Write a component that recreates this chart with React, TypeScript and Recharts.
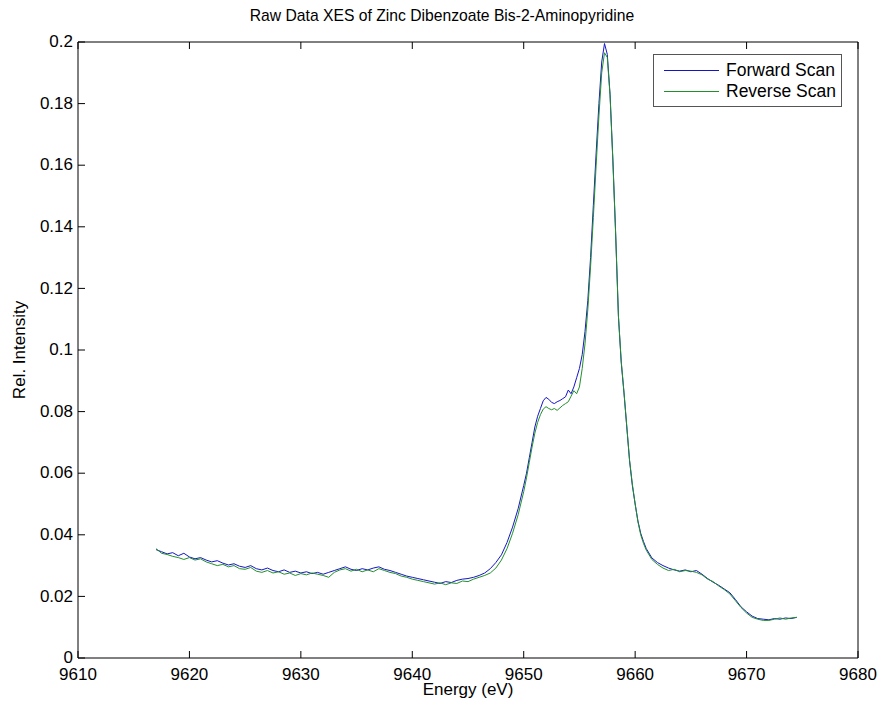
import React from "react";
import { Line, LineChart, XAxis, YAxis } from "recharts";

// energy grid (eV): 0.5 eV steps, 0.25 eV across the main peak
const energies = [
  9617.0, 9617.5, 9618.0, 9618.5, 9619.0, 9619.5, 9620.0, 9620.5, 9621.0, 9621.5,
  9622.0, 9622.5, 9623.0, 9623.5, 9624.0, 9624.5, 9625.0, 9625.5, 9626.0, 9626.5,
  9627.0, 9627.5, 9628.0, 9628.5, 9629.0, 9629.5, 9630.0, 9630.5, 9631.0, 9631.5,
  9632.0, 9632.5, 9633.0, 9633.5, 9634.0, 9634.5, 9635.0, 9635.5, 9636.0, 9636.5,
  9637.0, 9637.5, 9638.0, 9638.5, 9639.0, 9639.5, 9640.0, 9640.5, 9641.0, 9641.5,
  9642.0, 9642.5, 9643.0, 9643.5, 9644.0, 9644.5, 9645.0, 9645.5, 9646.0, 9646.5,
  9647.0, 9647.5, 9648.0, 9648.5, 9649.0, 9649.5, 9650.0,
  9650.25, 9650.5, 9650.75, 9651.0, 9651.25, 9651.5, 9651.75, 9652.0, 9652.25, 9652.5,
  9652.75, 9653.0, 9653.25, 9653.5, 9653.75, 9654.0, 9654.25, 9654.5, 9654.75, 9655.0,
  9655.25, 9655.5, 9655.75, 9656.0, 9656.25, 9656.5, 9656.75, 9657.0, 9657.25, 9657.5,
  9657.75, 9658.0, 9658.25, 9658.5, 9658.75, 9659.0, 9659.25, 9659.5, 9659.75, 9660.0,
  9660.25, 9660.5, 9660.75, 9661.0,
  9661.5, 9662.0, 9662.5, 9663.0, 9663.5, 9664.0, 9664.5, 9665.0, 9665.5, 9666.0,
  9666.5, 9667.0, 9667.5, 9668.0, 9668.5, 9669.0, 9669.5, 9670.0, 9670.5, 9671.0,
  9671.5, 9672.0, 9672.5, 9673.0, 9673.5, 9674.0, 9674.5,
];

const forwardScan = [
  0.0352, 0.0345, 0.0338, 0.0342, 0.0332, 0.034, 0.0328, 0.0322, 0.0326, 0.0318,
  0.0312, 0.0316, 0.0308, 0.0302, 0.0306, 0.0298, 0.0294, 0.03, 0.029, 0.0286,
  0.0292, 0.0284, 0.028, 0.0286, 0.0278, 0.0282, 0.0276, 0.028, 0.0274, 0.0278,
  0.0272, 0.0278, 0.0284, 0.029, 0.0296, 0.0288, 0.0284, 0.029, 0.0286, 0.0292,
  0.0296, 0.0288, 0.0284, 0.0278, 0.0272, 0.0266, 0.0262, 0.0258, 0.0254, 0.025,
  0.0246, 0.0242, 0.0248, 0.0245, 0.0252, 0.0256, 0.0258, 0.0262, 0.0268, 0.0276,
  0.029, 0.031, 0.0335, 0.0375, 0.0425, 0.0485, 0.056,
  0.06, 0.065, 0.07, 0.075, 0.0785, 0.081, 0.0835, 0.0846, 0.084, 0.083,
  0.0826, 0.0832, 0.0836, 0.0842, 0.0848, 0.087, 0.0858, 0.088, 0.091, 0.094,
  0.0985, 0.106, 0.116, 0.13, 0.147, 0.164, 0.18, 0.1935, 0.1995, 0.196,
  0.183, 0.162, 0.138, 0.111, 0.096, 0.086, 0.075, 0.064, 0.056, 0.05,
  0.0445, 0.0405, 0.0378, 0.0355,
  0.0325, 0.031, 0.03, 0.0292, 0.0286, 0.0282, 0.0286, 0.028, 0.0284, 0.0272,
  0.0258, 0.0246, 0.0236, 0.0224, 0.0212, 0.019, 0.0166, 0.015, 0.0136, 0.0128,
  0.0126, 0.0124, 0.0128, 0.0126, 0.013, 0.0128, 0.0132,
];

const reverseScan = [
  0.0355, 0.034, 0.0336, 0.033, 0.0326, 0.032, 0.0326, 0.0318, 0.0322, 0.0312,
  0.0306, 0.03, 0.0304, 0.0296, 0.03, 0.029, 0.0288, 0.0294, 0.0282, 0.0278,
  0.0284, 0.0276, 0.028, 0.0272, 0.0276, 0.0268, 0.0274, 0.027, 0.0276, 0.0272,
  0.0268, 0.0262, 0.0278, 0.0286, 0.029, 0.0282, 0.0288, 0.028, 0.0286, 0.028,
  0.029, 0.0284, 0.0278, 0.0274, 0.0266, 0.0262, 0.0256, 0.0252, 0.0248, 0.0244,
  0.024, 0.0244, 0.0238, 0.0244, 0.0242, 0.025, 0.0248, 0.0256, 0.0262, 0.0268,
  0.0276, 0.0292, 0.0318, 0.0355, 0.0405, 0.0465, 0.054,
  0.0585, 0.0635, 0.0685, 0.073, 0.0765, 0.079, 0.0808, 0.0816, 0.081, 0.0806,
  0.081, 0.0804, 0.0812, 0.082, 0.0826, 0.0832, 0.085, 0.0868, 0.0858, 0.088,
  0.094, 0.102, 0.113, 0.127, 0.143, 0.16, 0.176, 0.19, 0.1965, 0.195,
  0.1825, 0.1615, 0.1375, 0.111, 0.0965, 0.0862, 0.0752, 0.0642, 0.0565, 0.05,
  0.0442, 0.04, 0.0372, 0.035,
  0.032, 0.0304, 0.0292, 0.0284, 0.0288, 0.028, 0.0284, 0.0282, 0.0278, 0.027,
  0.0256, 0.0248, 0.0234, 0.0222, 0.0208, 0.0186, 0.0164, 0.0146, 0.0132, 0.0126,
  0.0122, 0.0122, 0.0126, 0.013, 0.0126, 0.013, 0.0132,
];

const xTicks = [9610, 9620, 9630, 9640, 9650, 9660, 9670, 9680];
const yTicks = [0, 0.02, 0.04, 0.06, 0.08, 0.1, 0.12, 0.14, 0.16, 0.18, 0.2];
const seriesNames = ["Forward Scan", "Reverse Scan"];

const FONT = "'Liberation Sans', Arial, sans-serif";
const BLUE = "#1515c8";
const GREEN = "#22902a";
const TICK = 7;

const fmtY = (v: number) => String(Number(v.toFixed(2)));

const BottomTick = ({ x, y, payload }: any) => (
  <g>
    <line x1={x} y1={y} x2={x} y2={y - TICK} stroke="#000" />
    <text x={x} y={y + 22} textAnchor="middle" fontSize={17} fontFamily={FONT} fill="#000">
      {payload.value}
    </text>
  </g>
);

const TopTick = ({ x, y }: any) => <line x1={x} y1={y} x2={x} y2={y + TICK} stroke="#000" />;

const LeftTick = ({ x, y, payload }: any) => (
  <g>
    <line x1={x} y1={y} x2={x + TICK} y2={y} stroke="#000" />
    <text x={x - 5} y={y} dy="0.3em" textAnchor="end" fontSize={17} fontFamily={FONT} fill="#000">
      {fmtY(payload.value)}
    </text>
  </g>
);

const RightTick = ({ x, y }: any) => <line x1={x} y1={y} x2={x - TICK} y2={y} stroke="#000" />;

export default function App() {
  const data = energies.map((e, i) => ({ e, fwd: forwardScan[i], rev: reverseScan[i] }));
  const colors = [BLUE, GREEN];

  return (
    <div style={{ position: "absolute", left: 0, top: 0, width: 884, height: 710, background: "#fff" }}>
      <div
        style={{
          position: "absolute",
          top: 7,
          width: 884,
          textAlign: "center",
          fontFamily: FONT,
          fontSize: 15.7,
        }}
      >
        Raw Data XES of Zinc Dibenzoate Bis-2-Aminopyridine
      </div>
      <div
        style={{
          position: "absolute",
          top: 680,
          left: 78,
          width: 780,
          textAlign: "center",
          fontFamily: FONT,
          fontSize: 17,
        }}
      >
        Energy (eV)
      </div>
      <div
        style={{
          position: "absolute",
          left: 20,
          top: 350,
          transform: "translate(-50%, -50%) rotate(-90deg)",
          whiteSpace: "nowrap",
          fontFamily: FONT,
          fontSize: 17,
        }}
      >
        Rel. Intensity
      </div>
      <LineChart width={884} height={710} data={data} margin={{ top: 41, right: 25, bottom: 0, left: 0 }}>
        <XAxis
          dataKey="e"
          type="number"
          domain={[9610, 9680]}
          ticks={xTicks}
          allowDataOverflow
          height={52}
          tickSize={0}
          tickMargin={0}
          tickLine={false}
          axisLine={{ stroke: "#000" }}
          tick={<BottomTick />}
          interval={0}
        />
        <XAxis
          xAxisId="top"
          orientation="top"
          dataKey="e"
          type="number"
          domain={[9610, 9680]}
          ticks={xTicks}
          height={1}
          tickSize={0}
          tickMargin={0}
          tickLine={false}
          axisLine={{ stroke: "#000" }}
          tick={<TopTick />}
          interval={0}
        />
        <YAxis
          domain={[0, 0.2]}
          ticks={yTicks}
          width={78}
          tickSize={0}
          tickMargin={0}
          tickLine={false}
          axisLine={{ stroke: "#000" }}
          tick={<LeftTick />}
          interval={0}
        />
        <YAxis
          yAxisId="right"
          orientation="right"
          domain={[0, 0.2]}
          ticks={yTicks}
          width={1}
          tickSize={0}
          tickMargin={0}
          tickLine={false}
          axisLine={{ stroke: "#000" }}
          tick={<RightTick />}
          interval={0}
        />
        <Line
          dataKey="fwd"
          name={seriesNames[0]}
          stroke={BLUE}
          strokeWidth={1}
          dot={false}
          isAnimationActive={false}
        />
        <Line
          dataKey="rev"
          name={seriesNames[1]}
          stroke={GREEN}
          strokeWidth={1}
          dot={false}
          isAnimationActive={false}
        />
      </LineChart>
      <div
        style={{
          position: "absolute",
          left: 653,
          top: 54,
          width: 189,
          height: 53,
          border: "1px solid #555",
          background: "#fff",
          boxSizing: "border-box",
          fontFamily: FONT,
          fontSize: 17.5,
          padding: "5px 0 0 10px",
        }}
      >
        {seriesNames.map((name, i) => (
          <div key={name} style={{ display: "flex", alignItems: "center", height: 21 }}>
            <span style={{ width: 55, borderTop: `1px solid ${colors[i]}`, marginRight: 7 }} />
            <span>{name}</span>
          </div>
        ))}
      </div>
    </div>
  );
}
